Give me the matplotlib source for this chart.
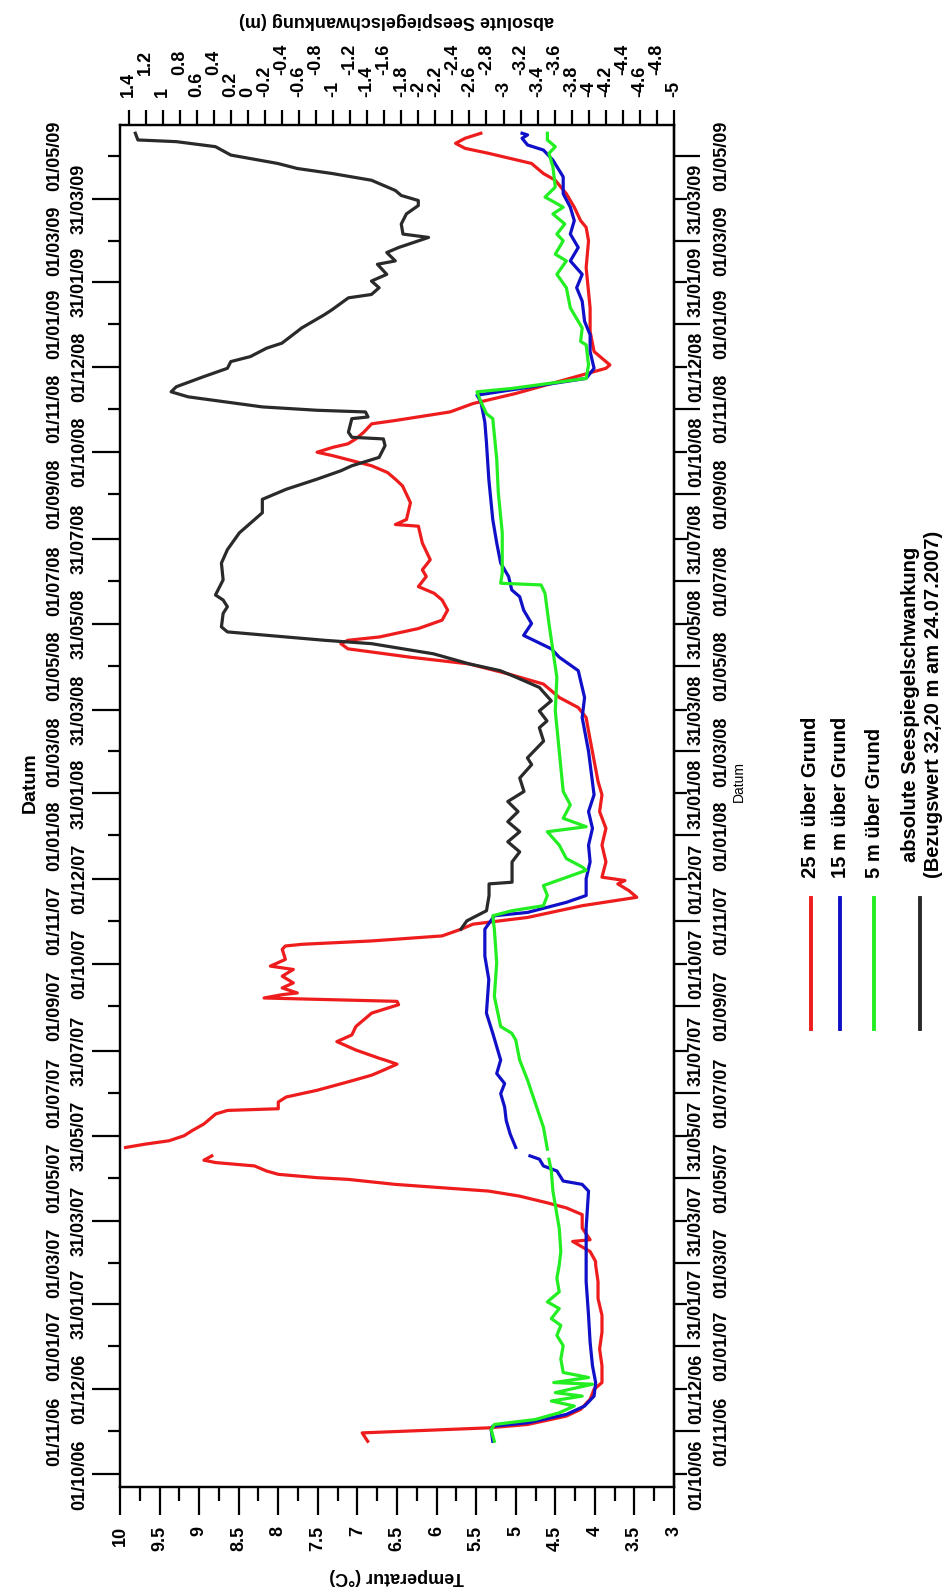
import numpy as np
import matplotlib.pyplot as plt
import matplotlib.dates as mdates
from matplotlib.lines import Line2D
from datetime import datetime

plt.rcParams['font.family'] = ['Liberation Sans', 'DejaVu Sans']
plt.rcParams['font.weight'] = 'bold'

nan = np.nan
base = mdates.date2num(datetime(2006, 10, 1))   # Tag 0 = 01.10.2006

# 25 m ueber Grund (Tage ab 01.10.2006, Temperatur in °C)
t25 = [23.7, 29.7, 33.3, 35.7, 41.7, 46.5, 53.7, 60.9, 65.7, 77.7, 89.7, 101.7, 113.8,
       125.8, 137.8, 149.8, 152.2, 159.4, 166.6, 167.8, 176.2, 185.8, 190.6, 194.2, 199.0,
       202.6, 205.0, 207.4, 211.0, 212.2, 214.6, 217.0, 220.6, 223.0, 224.7, 227.8, 230.0,
       233.8, 236.2, 238.6, 242.2, 245.8, 250.6, 257.8, 260.3, 261.5, 266.3, 269.9, 274.7,
       280.7, 285.5, 289.1, 293.4, 296.3, 297.5, 303.5, 309.5, 314.3, 320.3, 329.9, 335.9,
       338.3, 340.7, 343.1, 344.3, 347.9, 351.5, 356.3, 361.1, 363.5, 368.3, 375.5, 377.9,
       379.1, 381.5, 385.1, 389.9, 393.5, 398.3, 406.7, 412.7, 417.5, 422.3, 424.7, 427.1,
       438.0, 450.0, 462.0, 474.0, 486.0, 495.6, 507.6, 531.6, 541.2, 548.4, 555.6, 565.2,
       572.4, 579.6, 584.4, 590.4, 594.1, 596.5, 598.9, 604.9, 610.9, 618.1, 625.3, 630.1,
       634.9, 642.1, 646.9, 654.1, 666.1, 678.1, 679.3, 682.9, 694.9, 706.9, 711.7, 716.5,
       721.3, 725.0, 728.5, 731.0, 734.5, 737.0, 740.5, 745.3, 751.3, 753.7, 759.8, 765.8,
       773.0, 791.0, 793.4, 803.0, 817.4, 834.2, 863.0, 882.2, 891.8, 896.6, 906.2, 915.8,
       925.5, 930.3, 937.5, 944.7, 948.3, 951.9, 955.5, 959.1]
v25 = [6.87, 6.94, 5.34, 4.85, 4.36, 4.18, 4.06, 4.01, 3.91, 3.91, 3.94, 3.91, 3.91,
       3.96, 3.96, 3.99, 3.99, 4.06, 4.28, 4.06, 4.16, 4.16, 4.36, 4.60, 4.95,
       5.34, 5.93, 6.52, 7.12, 7.51, 8.00, 8.15, 8.30, 8.79, 8.94, 8.84, nan,
       9.93, 9.68, 9.38, 9.19, 9.09, 8.94, 8.79, 8.64, 8.00, 8.00, 7.90, 7.51,
       7.12, 6.82, 6.67, 6.50, 6.65, 6.72, 7.02, 7.26, 7.07, 7.02, 6.82, 6.48,
       6.50, 8.18, 7.95, 7.76, 7.95, 7.81, 7.95, 7.81, 8.10, 7.91, 7.95, 7.91,
       7.70, 6.82, 5.93, 5.69, 5.54, 4.85, 4.16, 3.47, 3.57, 3.71, 3.62, 3.91,
       3.86, 3.91, 3.86, 3.94, 3.91, 3.96, 4.00, 4.08, 4.11, 4.21, 4.45, 4.65,
       5.09, 5.59, 6.33, 7.12, 7.21, 7.12, 6.72, 6.23, 5.93, 5.86, 5.93, 6.03,
       6.23, 6.13, 6.18, 6.08, 6.18, 6.23, 6.52, 6.38, 6.33, 6.43, 6.52, 6.62,
       6.82, 7.07, 7.31, 7.51, 7.31, 7.12, 7.02, 6.92, 6.82, 6.52, 5.83, 5.54,
       5.00, 3.86, 3.81, 4.01, 4.06, 4.06, 4.11, 4.08, 4.11, 4.18, 4.26, 4.36,
       4.50, 4.65, 4.80, 5.34, 5.64, 5.76, 5.64, 5.44]

# 15 m ueber Grund
t15 = [23.7, 32.0, 34.5, 36.9, 42.9, 48.9, 56.0, 65.7, 77.7, 94.5, 113.8, 137.8, 161.8,
       176.2, 202.6, 207.4, 209.8, 217.0, 220.6, 225.4, 227.8, 230.0, 233.8, 243.4, 253.1,
       262.7, 272.3, 279.5, 286.7, 296.3, 305.9, 315.5, 329.9, 353.9, 370.7, 389.9, 399.5,
       401.9, 409.1, 414.0, 426.0, 438.0, 450.0, 462.0, 474.0, 486.0, 517.2, 541.2, 555.6,
       574.8, 584.4, 590.4, 600.0, 608.5, 618.1, 627.7, 632.5, 642.1, 651.7, 666.1, 682.9,
       711.7, 738.1, 752.5, 767.0, 771.8, 783.8, 791.0, 803.0, 815.0, 824.6, 839.0, 848.6,
       858.2, 867.8, 877.4, 887.0, 896.6, 906.2, 915.8, 927.9, 939.9, 947.1, 950.7, 955.5,
       957.9, 959.1]
v15 = [5.29, 5.31, 5.29, 4.85, 4.36, 4.13, 4.01, 3.99, 4.03, 4.06, 4.08, 4.11, 4.11,
       4.11, 4.08, 4.16, 4.40, 4.48, 4.65, 4.70, 4.82, nan, 5.00, 5.07, 5.12,
       5.14, 5.19, 5.14, 5.24, 5.19, 5.24, 5.29, 5.37, 5.34, 5.39, 5.39, 5.27,
       4.85, 4.36, 4.11, 4.11, 4.06, 4.08, 4.03, 4.08, 4.01, 4.08, 4.16, 4.13,
       4.21, 4.45, 4.55, 4.90, 4.80, 4.90, 4.95, 5.05, 5.09, 5.19, 5.24, 5.29,
       5.34, 5.37, 5.39, 5.44, 5.49, 4.11, 4.01, 4.06, 4.06, 4.13, 4.16, 4.23,
       4.16, 4.31, 4.21, 4.31, 4.26, 4.31, 4.40, 4.40, 4.53, 4.65, 4.85, 4.92,
       4.85, 4.92]

# 5 m ueber Grund
t5 = [23.7, 32.0, 35.7, 39.3, 44.1, 48.9, 52.5, 56.0, 58.5, 64.5, 65.7, 69.3, 72.9,
      82.5, 92.1, 99.4, 106.6, 111.4, 118.6, 123.4, 130.6, 140.2, 149.8, 159.4, 176.0,
      202.6, 217.0, 225.4, 229.0, 232.6, 248.3, 265.1, 281.9, 296.3, 310.7, 315.5, 320.3,
      341.9, 365.9, 389.9, 399.5, 403.1, 406.7, 414.0, 421.1, 432.0, 434.4, 440.4, 450.0,
      459.6, 463.2, 469.2, 478.8, 488.4, 517.2, 546.0, 570.0, 589.2, 608.5, 630.1, 636.1,
      637.3, 644.5, 673.3, 702.1, 726.1, 755.0, 758.6, 767.0, 774.2, 776.6, 783.8, 793.4,
      807.8, 810.2, 819.8, 834.2, 848.6, 858.2, 867.8, 872.6, 882.2, 887.0, 894.2, 901.4,
      906.2, 911.0, 913.4, 920.6, 935.1, 944.7, 949.5, 954.3, 959.1]
v5 = [5.27, 5.31, 5.27, 4.75, 4.45, 4.26, 4.55, 4.16, 4.50, 4.03, 4.52, 4.08, 4.40,
      4.43, 4.40, 4.48, 4.43, 4.55, 4.45, 4.60, 4.45, 4.48, 4.45, 4.43, 4.45,
      4.53, 4.55, 4.58, nan, 4.60, 4.65, 4.75, 4.85, 4.95, 5.00, 5.05, 5.19,
      5.27, 5.24, 5.27, 5.29, 5.05, 4.65, 4.60, 4.65, 4.11, 4.16, 4.36, 4.45,
      4.60, 4.11, 4.40, 4.31, 4.40, 4.45, 4.50, 4.48, 4.53, 4.58, 4.63, 4.68,
      5.19, 5.17, 5.17, 5.22, 5.24, 5.29, 5.37, 5.44, 5.49, 5.05, 4.11, 4.08,
      4.11, 4.18, 4.16, 4.31, 4.36, 4.48, 4.36, 4.50, 4.40, 4.48, 4.38, 4.53,
      4.40, 4.55, 4.63, 4.50, 4.53, 4.58, 4.50, 4.60, 4.60]

# absolute Seespiegelschwankung (m)
tsee = [389.9, 395.9, 403.1, 414.0, 422.3, 423.5, 438.0, 445.2, 452.4, 459.6, 466.8,
        474.0, 481.2, 488.4, 498.0, 507.6, 512.4, 524.4, 534.0, 538.8, 546.0, 553.2,
        562.8, 570.0, 574.8, 579.6, 586.8, 594.1, 596.5, 602.5, 606.1, 615.7, 620.5,
        625.3, 628.9, 639.7, 651.7, 661.3, 673.3, 687.7, 697.3, 704.5, 711.7, 717.7,
        721.3, 727.3, 735.7, 740.5, 741.7, 745.3, 755.0, 756.2, 759.8, 761.0, 763.4,
        770.6, 774.2, 777.8, 785.0, 791.0, 795.8, 799.4, 805.4, 809.0, 817.4, 819.8,
        829.4, 833.0, 841.4, 843.8, 848.6, 853.4, 858.2, 865.4, 867.8, 873.8, 877.4,
        884.6, 887.0, 894.2, 901.4, 907.4, 911.0, 914.6, 918.2, 925.5, 930.3, 933.9,
        937.5, 943.5, 949.5, 953.1, 954.3, 959.1]
vsee = [-2.50, -2.57, -2.80, -2.83, -2.83, -3.10, -3.10, -3.19, -3.05, -3.19, -3.05,
        -3.17, -3.05, -3.24, -3.19, -3.33, -3.28, -3.47, -3.42, -3.51, -3.42, -3.56,
        -3.42, -3.15, -2.96, -2.60, -2.18, -1.45, -0.90, 0.24, 0.31, 0.29, 0.24,
        0.29, 0.38, 0.29, 0.31, 0.24, 0.10, -0.17, -0.17, -0.45, -0.81, -1.09,
        -1.22, -1.54, -1.61, -1.59, -1.22, -1.18, -1.22, -1.41, -1.38, -0.81, -0.17,
        0.70, 0.90, 0.84, 0.52, 0.24, 0.20, -0.03, -0.22, -0.40, -0.58, -0.63,
        -0.90, -0.99, -1.18, -1.45, -1.54, -1.45, -1.63, -1.52, -1.73, -1.63, -1.77,
        -2.12, -1.82, -1.80, -1.86, -2.00, -2.00, -1.80, -1.73, -1.45, -0.99, -0.58,
        -0.35, 0.20, 0.38, 0.84, 1.29, 1.32]

datum_labels = ['01/10/06', '01/11/06', '01/12/06', '01/01/07', '31/01/07', '01/03/07',
                '31/03/07', '01/05/07', '31/05/07', '01/07/07', '31/07/07', '01/09/07',
                '01/10/07', '01/11/07', '01/12/07', '01/01/08', '31/01/08', '01/03/08',
                '31/03/08', '01/05/08', '31/05/08', '01/07/08', '31/07/08', '01/09/08',
                '01/10/08', '01/11/08', '01/12/08', '01/01/09', '31/01/09', '01/03/09',
                '31/03/09', '01/05/09']
temp_ticks = [10, 9.5, 9, 8.5, 8, 7.5, 7, 6.5, 6, 5.5, 5, 4.5, 4, 3.5, 3]
temp_labels = ['10', '9.5', '9', '8.5', '8', '7.5', '7', '6.5', '6', '5.5', '5', '4.5', '4', '3.5', '3']
see_near = [1.4, 1, 0.6, 0.2, 0, -0.2, -0.6, -1, -1.4, -1.8, -2, -2.2, -2.6, -3, -3.4,
            -3.8, -4, -4.2, -4.6, -5]
see_far = [1.2, 0.8, 0.4, -0.4, -0.8, -1.2, -1.6, -2.4, -2.8, -3.2, -3.6, -4.4, -4.8]

RED, BLUE, GREEN, BLACK = '#ee1c1c', '#1010c8', '#22ee22', '#2a2a2a'

fig = plt.figure(figsize=(9.51, 15.89), dpi=100)
ax = fig.add_axes([120 / 951, 1 - 1487 / 1589, 554 / 951, 1362 / 1589])
ax2 = ax.twiny()

def tage(t):
    return base + np.array(t, dtype=float)

ax.plot(v25, tage(t25), color=RED, lw=2.3)
ax.plot(v15, tage(t15), color=BLUE, lw=2.3)
ax.plot(v5, tage(t5), color=GREEN, lw=2.3)
ax2.plot(vsee, tage(tsee), color=BLACK, lw=2.3)

ax.set_xlim(10, 3)
ax2.set_xlim(1.5, -5)
ax.set_ylim(mdates.date2num(datetime(2006, 9, 22)), mdates.date2num(datetime(2009, 5, 23)))

# Temperaturachse (unten)
ax.set_xticks(temp_ticks, temp_labels)
ax.set_xticks([t - 0.25 for t in temp_ticks[:-1]], minor=True)
ax.tick_params(axis='x', which='major', length=20, width=1.6, pad=8, labelsize=13, labelrotation=90)
ax.tick_params(axis='x', which='minor', length=10, width=1.6)

# Datumsachse links, Beschriftung versetzt
dpos = [mdates.date2num(datetime.strptime(s, '%d/%m/%y')) for s in datum_labels]
ax.set_yticks(dpos[0::2], datum_labels[0::2])
ax.set_yticks(dpos[1::2], datum_labels[1::2], minor=True)
ax.tick_params(axis='y', which='both', left=True, right=False, labelleft=True, labelright=False,
               width=1.6, labelsize=13, labelrotation=90)
ax.tick_params(axis='y', which='major', length=20, pad=3)
ax.tick_params(axis='y', which='minor', length=9, pad=32)

# Datumsachse rechts
rechts = ax.secondary_yaxis('right')
rechts.set_yticks(dpos[0::2], datum_labels[0::2])
rechts.set_yticks(dpos[1::2], datum_labels[1::2], minor=True)
rechts.tick_params(axis='y', which='both', width=1.6, labelsize=13, labelrotation=90)
rechts.tick_params(axis='y', which='major', length=9, pad=1)
rechts.tick_params(axis='y', which='minor', length=19, pad=9)
rechts.spines['right'].set_linewidth(1.6)

for a in (ax, rechts):
    for tk in a.yaxis.get_major_ticks() + a.yaxis.get_minor_ticks():
        tk.label1.set_va('center')
        tk.label2.set_va('center')

# Seespiegelachse (oben)
ax2.set_xticks(see_near, [f'{v:g}' for v in see_near])
ax2.set_xticks(see_far, [f'{v:g}' for v in see_far], minor=True)
ax2.tick_params(axis='x', which='both', length=11, width=1.6, labelsize=13, labelrotation=90)
ax2.tick_params(axis='x', which='major', pad=9)
ax2.tick_params(axis='x', which='minor', pad=25)

for a in (ax, ax2):
    for sp in a.spines.values():
        sp.set_linewidth(1.6)

fig.text(397 / 951, 1 - 21 / 1589, 'absolute Seespiegelschwankung (m)', rotation=180,
         ha='center', va='center', fontsize=13)
fig.text(397 / 951, 1 - 1577 / 1589, 'Temperatur (°C)', rotation=180,
         ha='center', va='center', fontsize=13)
fig.text(30 / 951, 1 - 783 / 1589, 'Datum', rotation=90, ha='center', va='center', fontsize=14)
fig.text(739 / 951, 1 - 781 / 1589, 'Datum', rotation=90, ha='center', va='center',
         fontsize=10, fontweight='normal')

# Legende
eintraege = [(811, 811, RED, '25 m über Grund'), (840, 840, BLUE, '15 m über Grund'),
             (874, 874, GREEN, '5 m über Grund'),
             (920, 922, BLACK, 'absolute Seespiegelschwankung\n(Bezugswert 32,20 m am 24.07.2007)')]
for xl, xt, farbe, text in eintraege:
    fig.add_artist(Line2D([xl / 951, xl / 951], [1 - 1029 / 1589, 1 - 898 / 1589],
                          color=farbe, lw=2.8, transform=fig.transFigure))
    fig.text(xt / 951, 1 - 878 / 1589, text, rotation=90, ha='center', va='bottom',
             fontsize=14.5, linespacing=1.25)

fig.savefig('out.png', dpi=100)
